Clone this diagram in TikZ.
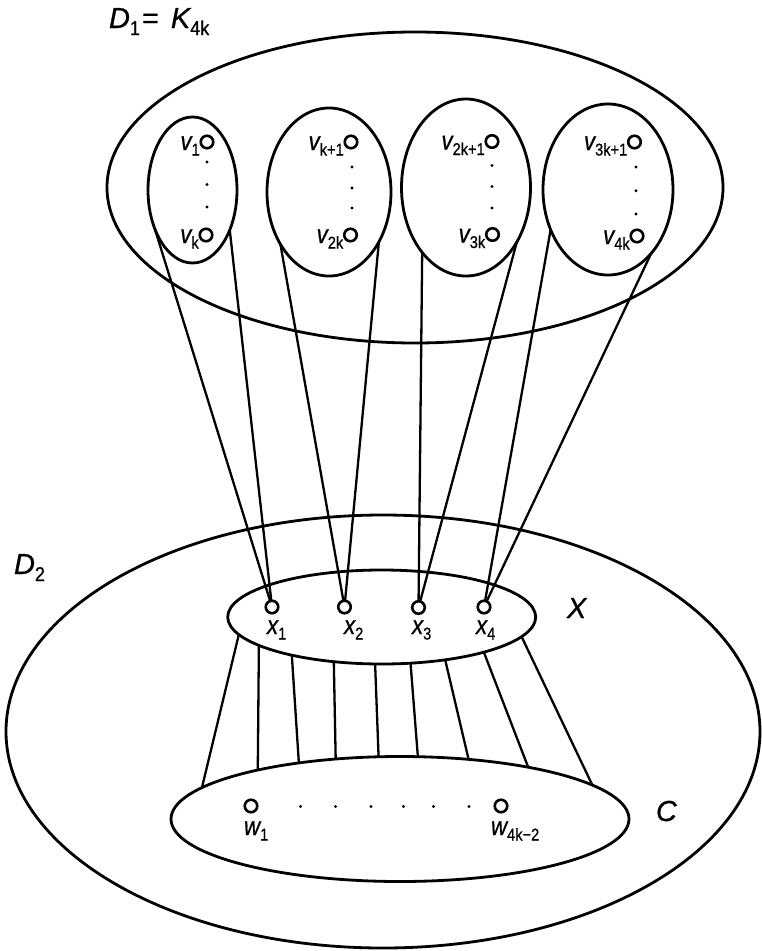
\documentclass[tikz,border=0pt]{standalone}
\usepackage{fontspec}
\usepackage{graphicx}
\setmainfont{Liberation Sans}[FakeBold=0.7]
\usetikzlibrary{shapes.geometric,calc}
\newcommand\LabBig[2]{{\fontsize{29}{29}\selectfont\itshape #1}\raisebox{-7pt}{\scalebox{0.9}[1]{\fontsize{20}{20}\selectfont #2}}}
\newcommand\LabSm[2]{\scalebox{0.86}[1]{{\fontsize{26}{26}\selectfont\itshape #1}\raisebox{-5.5pt}{\fontsize{17}{17}\selectfont #2}}}
\begin{document}
\begin{tikzpicture}[x=1pt,y=-1pt,
  region/.style={draw,ellipse,line width=2.8pt,inner sep=0pt,outer sep=0pt},
  vert/.style={draw,circle,line width=2.6pt,minimum size=12.5pt,inner sep=0pt,outer sep=0pt,fill=white},
  dotn/.style={fill,circle,minimum size=3.2pt,inner sep=0pt},
  link/.style={line width=2.3pt},
  lab/.style={inner sep=0pt,outer sep=0pt}]
\useasboundingbox (0,0) rectangle (762,951);
% regions
\node[region,minimum width=616pt,minimum height=311pt] (D1) at (415,187.5) {};
\node[region,minimum width=89pt,minimum height=146pt] (E1) at (192.5,190) {};
\node[region,minimum width=124pt,minimum height=168pt] (E2) at (329,192) {};
\node[region,minimum width=129pt,minimum height=177pt] (E3) at (466,187.5) {};
\node[region,minimum width=130pt,minimum height=171pt] (E4) at (608,189.5) {};
\node[region,minimum width=754pt,minimum height=433pt] (D2) at (383,731.5) {};
\node[region,minimum width=308pt,minimum height=94pt] (X) at (381.7,617) {};
\node[region,minimum width=458pt,minimum height=125pt] (C) at (400,819) {};
% vertices
\node[vert] (v1) at (207,142) {};
\node[vert] (vk) at (206,235) {};
\node[vert] (vk1) at (351,142) {};
\node[vert] (v2k) at (350.5,235) {};
\node[vert] (v2k1) at (492,141.5) {};
\node[vert] (v3k) at (492.5,234.5) {};
\node[vert] (v3k1) at (634.5,142) {};
\node[vert] (v4k) at (637,236) {};
\node[vert] (x1) at (272,607) {};
\node[vert] (x2) at (344.5,607) {};
\node[vert] (x3) at (418.5,607.5) {};
\node[vert] (x4) at (484,607) {};
\node[vert] (w1) at (251,806) {};
\node[vert] (w4k) at (501,806) {};
% dots
\foreach \i/\y in {a/162,b/184.5,c/207} {\node[dotn] (d1\i) at (207,\y) {};}
\foreach \i/\y in {a/167,b/188,c/208} {\node[dotn] (d2\i) at (352,\y) {};}
\foreach \i/\y in {a/165.5,b/186.5,c/208} {\node[dotn] (d3\i) at (492,\y) {};}
\foreach \i/\y in {a/167,b/190.7,c/214} {\node[dotn] (d4\i) at (636,\y) {};}
\foreach \i/\x in {a/300.5,b/335.5,c/371,d/403.5,e/433.5,f/469} {\node[dotn] (dw\i) at (\x,806.5) {};}
% connectors top
\draw[link] (E1.226.6) -- (x1);
\draw[link] (E1.313.6) -- (x1);
\draw[link] (E2.227.8) -- (x2);
\draw[link] (E2.315) -- (x2);
\draw[link] (E3.236.7) -- (x3);
\draw[link] (E3.313.7) -- (x3);
\draw[link] (E4.215.4) -- (x4);
\draw[link] (E4.304.1) -- (x4);
% connectors X -- C
\draw[link] (X.187.7) -- (C.171.4);
\draw[link] (X.193.8) -- (C.161.1);
\draw[link] (X.203.4) -- (C.151);
\draw[link] (X.223.5) -- (C.137.1);
\draw[link] (X.262.6) -- (C.109.8);
\draw[link] (X.302.5) -- (C.74.5);
\draw[link] (X.326) -- (C.41);
\draw[link] (X.341) -- (C.22.2);
\draw[link] (X.352.3) -- (C.10.1);
% labels
\node[lab,anchor=base west,font=\fontsize{29}{29}\selectfont] (t1) at (109,28) {\LabBig{D}{1}\hspace{2pt}=\hspace{12pt}\LabBig{K}{4k}};
\node[lab,anchor=base west] (t2) at (14,574) {\LabBig{D}{2}};
\node[lab,anchor=base west,font=\fontsize{29}{29}\selectfont\itshape] (tX) at (567,618) {X};
\node[lab,anchor=base west,font=\fontsize{29}{29}\selectfont\itshape] (tC) at (656,821) {C};
\node[lab,anchor=base east] (lv1) at ($(v1.west)+(-1,8)$) {\LabSm{v}{1}};
\node[lab,anchor=base east] (lvk) at ($(vk.west)+(-1,8)$) {\LabSm{v}{k}};
\node[lab,anchor=base east] (lvk1) at ($(vk1.west)+(-1,8)$) {\LabSm{v}{k+1}};
\node[lab,anchor=base east] (lv2k) at ($(v2k.west)+(-1,8)$) {\LabSm{v}{2k}};
\node[lab,anchor=base east] (lv2k1) at ($(v2k1.west)+(-1,8)$) {\LabSm{v}{2k+1}};
\node[lab,anchor=base east] (lv3k) at ($(v3k.west)+(-1,8)$) {\LabSm{v}{3k}};
\node[lab,anchor=base east] (lv3k1) at ($(v3k1.west)+(-1,8)$) {\LabSm{v}{3k+1}};
\node[lab,anchor=base east] (lv4k) at ($(v4k.west)+(-1,8)$) {\LabSm{v}{4k}};
\node[lab,anchor=base west] (lx1) at (267,634) {\LabSm{x}{1}};
\node[lab,anchor=base west] (lx2) at (344,634) {\LabSm{x}{2}};
\node[lab,anchor=base west] (lx3) at (412,634) {\LabSm{x}{3}};
\node[lab,anchor=base west] (lx4) at (476,634) {\LabSm{x}{4}};
\node[lab,anchor=base west] (lw1) at (244,835) {\LabSm{w}{1}};
\node[lab,anchor=base west] (lw4k) at (491,835) {\LabSm{w}{4k−2}};
\end{tikzpicture}
\end{document}
